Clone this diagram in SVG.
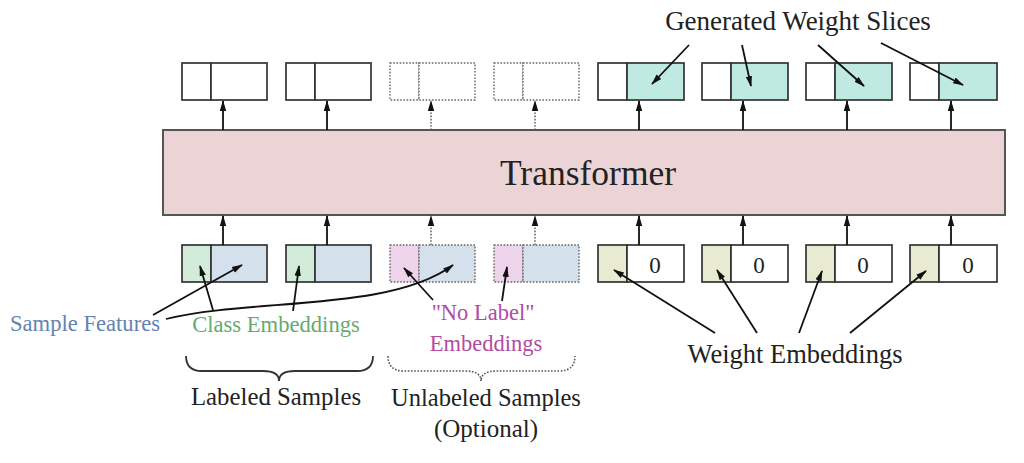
<svg xmlns="http://www.w3.org/2000/svg" width="1024" height="463" viewBox="0 0 1024 463">
<defs>
<marker id="ah" markerWidth="11" markerHeight="8" refX="10" refY="4" orient="auto" markerUnits="userSpaceOnUse"><path d="M0,0.8 L11,4 L0,7.2 z" fill="#111"/></marker>
<style>
text{font-family:"Liberation Serif","Times New Roman",serif;fill:#222}
.box{stroke:#333;stroke-width:1.7}
.dot{stroke:#666;stroke-width:1.4;stroke-dasharray:1.6 1.6}
.w{fill:#fff}
.teal{fill:#bfeae2}
.grn{fill:#d3ecd9}
.blu{fill:#d4e0ec}
.pnk{fill:#eed4ea}
.olv{fill:#e8ebd2}
.ar{stroke:#111;stroke-width:1.8;fill:none}
.ard{stroke:#555;stroke-width:1.4;fill:none;stroke-dasharray:1.6 1.6}
.zero{font-size:23px}
</style>
</defs>
<rect width="1024" height="463" fill="#fff"/>

<g id="transformer">
<rect x="163" y="130" width="842" height="85" fill="#ecd4d6" stroke="#555" stroke-width="2"/>
<text x="588" y="185" font-size="35.5" text-anchor="middle">Transformer</text>
</g>

<g id="out1"><rect class="box w" x="182" y="63" width="29" height="37"/><rect class="box w" x="211" y="63" width="56" height="37"/></g>
<g id="out2"><rect class="box w" x="286" y="63" width="29" height="37"/><rect class="box w" x="315" y="63" width="56" height="37"/></g>
<g id="out3"><rect class="dot w" x="390" y="63" width="29" height="37"/><rect class="dot w" x="419" y="63" width="56" height="37"/></g>
<g id="out4"><rect class="dot w" x="494" y="63" width="29" height="37"/><rect class="dot w" x="523" y="63" width="56" height="37"/></g>
<g id="out5"><rect class="box w" x="598" y="63" width="29" height="37"/><rect class="box teal" x="627" y="63" width="57" height="37"/></g>
<g id="out6"><rect class="box w" x="702" y="63" width="29" height="37"/><rect class="box teal" x="731" y="63" width="57" height="37"/></g>
<g id="out7"><rect class="box w" x="806" y="63" width="29" height="37"/><rect class="box teal" x="835" y="63" width="57" height="37"/></g>
<g id="out8"><rect class="box w" x="910" y="63" width="29" height="37"/><rect class="box teal" x="939" y="63" width="58" height="37"/></g>

<g id="in1"><rect class="box grn" x="182" y="245" width="29" height="37"/><rect class="box blu" x="211" y="245" width="56" height="37"/></g>
<g id="in2"><rect class="box grn" x="286" y="245" width="29" height="37"/><rect class="box blu" x="315" y="245" width="56" height="37"/></g>
<g id="in3"><rect class="dot pnk" x="390" y="245" width="29" height="37"/><rect class="dot blu" x="419" y="245" width="56" height="37"/></g>
<g id="in4"><rect class="dot pnk" x="494" y="245" width="29" height="37"/><rect class="dot blu" x="523" y="245" width="56" height="37"/></g>
<g id="in5"><rect class="box olv" x="598" y="245" width="29" height="37"/><rect class="box w" x="627" y="245" width="57" height="37"/><text class="zero" x="655" y="273" text-anchor="middle">0</text></g>
<g id="in6"><rect class="box olv" x="702" y="245" width="29" height="37"/><rect class="box w" x="731" y="245" width="57" height="37"/><text class="zero" x="759" y="273" text-anchor="middle">0</text></g>
<g id="in7"><rect class="box olv" x="806" y="245" width="29" height="37"/><rect class="box w" x="835" y="245" width="57" height="37"/><text class="zero" x="863" y="273" text-anchor="middle">0</text></g>
<g id="in8"><rect class="box olv" x="910" y="245" width="29" height="37"/><rect class="box w" x="939" y="245" width="58" height="37"/><text class="zero" x="968" y="273" text-anchor="middle">0</text></g>

<g id="connectors">
<path class="ar" d="M223,130 V101" marker-end="url(#ah)"/>
<path class="ar" d="M327,130 V101" marker-end="url(#ah)"/>
<path class="ard" d="M431,130 V101" marker-end="url(#ah)"/>
<path class="ard" d="M535,130 V101" marker-end="url(#ah)"/>
<path class="ar" d="M639,130 V101" marker-end="url(#ah)"/>
<path class="ar" d="M743,130 V101" marker-end="url(#ah)"/>
<path class="ar" d="M847,130 V101" marker-end="url(#ah)"/>
<path class="ar" d="M951,130 V101" marker-end="url(#ah)"/>

<path class="ar" d="M223,245 V216" marker-end="url(#ah)"/>
<path class="ar" d="M327,245 V216" marker-end="url(#ah)"/>
<path class="ard" d="M431,245 V216" marker-end="url(#ah)"/>
<path class="ard" d="M535,245 V216" marker-end="url(#ah)"/>
<path class="ar" d="M639,245 V216" marker-end="url(#ah)"/>
<path class="ar" d="M743,245 V216" marker-end="url(#ah)"/>
<path class="ar" d="M847,245 V216" marker-end="url(#ah)"/>
<path class="ar" d="M951,245 V216" marker-end="url(#ah)"/>

<path class="ar" d="M689,45 L652,84" marker-end="url(#ah)"/>
<path class="ar" d="M742,45 L751,86" marker-end="url(#ah)"/>
<path class="ar" d="M818,45 L864,86" marker-end="url(#ah)"/>
<path class="ar" d="M881,43 L963,85" marker-end="url(#ah)"/>

<path class="ar" d="M153,315 L242,265" marker-end="url(#ah)"/>
<path class="ar" d="M166,319 C250,298 390,312 453,265" marker-end="url(#ah)"/>
<path class="ar" d="M213,310 L200,266" marker-end="url(#ah)"/>
<path class="ar" d="M293,311 L299,266" marker-end="url(#ah)"/>
<path class="ar" d="M433,300 L404,268" marker-end="url(#ah)"/>
<path class="ar" d="M502,301 L507,267" marker-end="url(#ah)"/>

<path class="ar" d="M715,333 L614,270" marker-end="url(#ah)"/>
<path class="ar" d="M757,333 L717,270" marker-end="url(#ah)"/>
<path class="ar" d="M799,333 L822,271" marker-end="url(#ah)"/>
<path class="ar" d="M850,333 L926,271" marker-end="url(#ah)"/>

<path d="M186,356 Q186,371 202,371 L263,371 Q279,371 279,381 Q279,371 295,371 L357,371 Q373,371 373,356" fill="none" stroke="#333" stroke-width="1.8"/>
<path d="M388,356 Q388,371 404,371 L465,371 Q481,371 481,381 Q481,371 497,371 L559,371 Q575,371 575,356" fill="none" stroke="#555" stroke-width="1.6" stroke-dasharray="1.6 1.6"/>
</g>

<g id="labels">
<text x="798" y="30" font-size="27" text-anchor="middle">Generated Weight Slices</text>
<text x="85" y="331" font-size="22.6" text-anchor="middle" style="fill:#5f83b3">Sample Features</text>
<text x="276" y="332" font-size="22.6" text-anchor="middle" style="fill:#66a970">Class Embeddings</text>
<text x="483" y="320" font-size="22.5" text-anchor="middle" style="fill:#b24ba3">"No Label"</text>
<text x="486" y="351" font-size="22.5" text-anchor="middle" style="fill:#b24ba3">Embeddings</text>
<text x="795" y="363" font-size="26.5" text-anchor="middle">Weight Embeddings</text>
<text x="276" y="405" font-size="24.8" text-anchor="middle">Labeled Samples</text>
<text x="486" y="406" font-size="24.5" text-anchor="middle">Unlabeled Samples</text>
<text x="486" y="437" font-size="25" text-anchor="middle">(Optional)</text>
</g>
</svg>
